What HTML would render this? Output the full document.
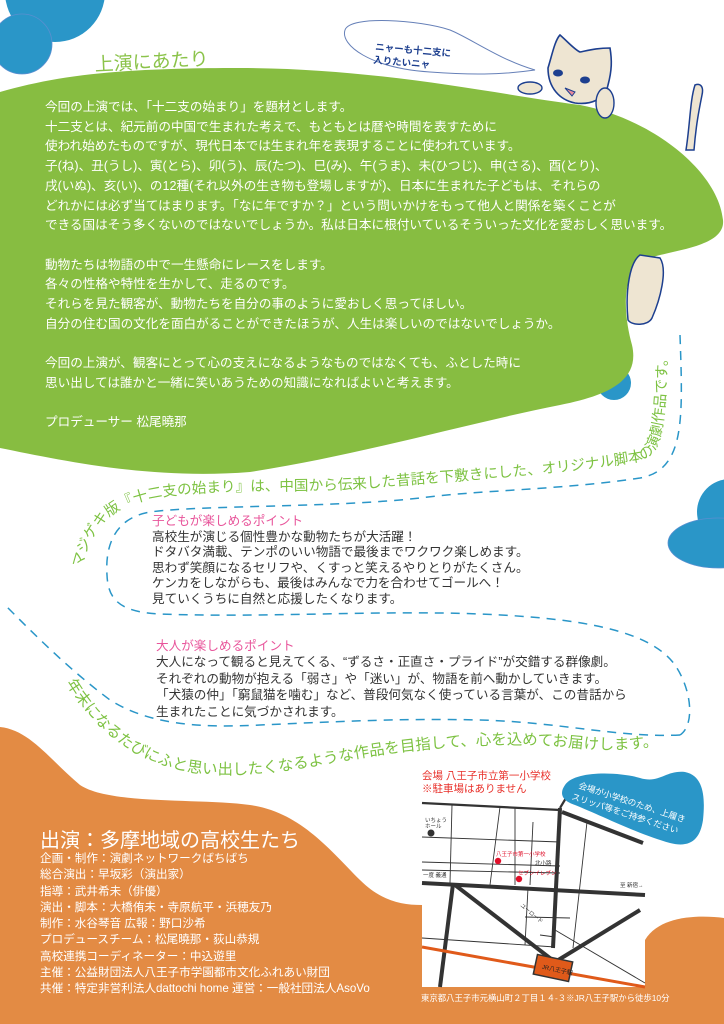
<!DOCTYPE html>
<html><head><meta charset="utf-8"><style>
html,body{margin:0;padding:0;background:#fff}
body{width:724px;height:1024px;position:relative;overflow:hidden;font-family:"Liberation Sans","Noto Sans CJK JP",sans-serif}
.t{position:absolute;white-space:nowrap}
.g{color:#fff;font-size:12.6px;line-height:19.7px;left:45px;top:98px}
.p{color:#333;font-size:12.6px;line-height:15.6px}
.pk{color:#e8559b}
.c{color:#fff;font-size:11.6px;line-height:16.3px;left:40px;top:851px}
</style></head><body>
<svg width="724" height="1024" style="position:absolute;left:0;top:0" xmlns="http://www.w3.org/2000/svg">
<path d="M0,727 C30,730 50,760 80,785 C110,805 200,798 250,805 C300,812 330,850 360,880 C380,900 400,905 422,905 L422,1024 L0,1024 Z" fill="#e38b44"/>
<path d="M422,900 L645,900 L645,1024 L422,1024 Z" fill="#e38b44"/>
<path d="M645,940 C660,915 700,915 724,918 L724,1024 L645,1024 Z" fill="#e38b44"/>
<circle cx="55" cy="-8" r="50" fill="#2a96c8"/>
<circle cx="22" cy="44" r="30" fill="#2a96c8" stroke="#5a8fd0" stroke-width="0.8"/>
<circle cx="614" cy="383" r="17" fill="#2a96c8"/>
<circle cx="730" cy="512" r="33" fill="#2a96c8"/>
<ellipse cx="718" cy="543" rx="50" ry="25" fill="#2a96c8" stroke="#5a8fd0" stroke-width="0.8"/>
<path d="M0,92 C60,75 120,68 240,68 C380,68 500,95 580,105 C650,118 718,170 723,220 C726,250 660,250 640,262 C620,280 625,320 632,345 C640,380 610,395 560,405 C460,425 360,455 250,472 C150,480 60,460 0,448 Z" fill="#87bd41"/>
<path d="M628,320 C625,290 630,262 640,255 L660,258 C668,270 660,300 652,318 C648,326 632,326 628,320 Z" fill="#eee5d2" stroke="#1d3f8f" stroke-width="1.5"/>
<path d="M686,150 C690,125 690,100 695,85 C700,83 704,86 702,95 C699,110 696,125 694,150 Z" fill="#eee5d2" stroke="#1d3f8f" stroke-width="1.5"/>
<path d="M548,68 C552,55 555,40 560,35 C568,42 575,50 580,52 C590,50 598,48 610,48 C612,60 612,70 608,85 C605,100 590,105 575,103 C560,100 548,88 548,68 Z" fill="#eee5d2" stroke="#1d3f8f" stroke-width="1.6"/>
<ellipse cx="558" cy="73" rx="5" ry="3.5" fill="#1d3f8f"/>
<ellipse cx="585" cy="80" rx="5" ry="3.5" fill="#1d3f8f"/>
<path d="M565,88 L575,92 L572,96 Z" fill="#e88a9a" stroke="#1d3f8f" stroke-width="1"/>
<ellipse cx="530" cy="88" rx="12" ry="6" fill="#eee5d2" stroke="#1d3f8f" stroke-width="1.4"/>
<ellipse cx="605" cy="103" rx="9" ry="15" fill="#eee5d2" stroke="#1d3f8f" stroke-width="1.4"/>
<path d="M345,30 C350,15 420,20 450,30 C470,38 500,60 535,70 C500,75 470,75 430,72 C370,68 340,45 345,30 Z" fill="#fff" stroke="#6680b8" stroke-width="1"/>
<text x="375" y="50" font-size="9.5" fill="#1d3f8f" font-weight="bold" transform="rotate(5 375 50)" font-family="Liberation Sans,Noto Sans CJK JP,sans-serif">ニャーも十二支に</text>
<text x="373" y="63" font-size="9.5" fill="#1d3f8f" font-weight="bold" transform="rotate(5 373 63)" font-family="Liberation Sans,Noto Sans CJK JP,sans-serif">入りたいニャ</text>
<text x="95" y="71" font-size="19" fill="#8bc34a" transform="rotate(-3 95 71)" font-family="Liberation Sans,Noto Sans CJK JP,sans-serif">上演にあたり</text>
<path d="M680,335 C683,420 685,470 640,478 C560,490 480,490 420,498 C330,508 200,505 150,512 C115,518 105,545 107,575 C108,600 120,612 160,614 C260,618 380,610 480,614 C580,618 650,630 675,665 C692,690 695,725 680,735" fill="none" stroke="#2a96c8" stroke-width="1.5" stroke-dasharray="9,7"/>
<path d="M680,735 C620,738 560,722 480,720 C400,718 330,722 260,725 C200,728 150,725 110,700 C70,670 40,640 5,605" fill="none" stroke="#2a96c8" stroke-width="1.5" stroke-dasharray="9,7"/>
<path id="p1" d="M82,568 C92,525 112,505 160,497 C230,487 300,494 380,487 C470,479 560,475 640,461 C664,455 666,420 668,325" fill="none"/>
<text font-size="14.6" fill="#7dc242" font-family="Liberation Sans,Noto Sans CJK JP,sans-serif"><textPath href="#p1">マジゲキ版『十二支の始まり』は、中国から伝来した昔話を下敷きにした、オリジナル脚本の演劇作品です。</textPath></text>
<path id="p2" d="M66,683 C95,730 140,770 210,774 C280,778 330,760 400,752 C470,744 520,742 580,748 C630,752 660,748 692,732" fill="none"/>
<text font-size="15.4" fill="#7dc242" font-family="Liberation Sans,Noto Sans CJK JP,sans-serif"><textPath href="#p2">年末になるたびにふと思い出したくなるような作品を目指して、心を込めてお届けします。</textPath></text>
<rect x="422" y="803" width="223" height="184" fill="#fff"/>
<g stroke="#333" fill="none" stroke-width="0.9">
<line x1="452" y1="805" x2="450" y2="883"/><line x1="500" y1="807" x2="490" y2="885"/>
<line x1="515" y1="807" x2="515" y2="885"/><line x1="533" y1="822" x2="530" y2="885"/>
<line x1="422" y1="837" x2="560" y2="842"/><line x1="422" y1="862" x2="560" y2="866"/>
<line x1="422" y1="870" x2="560" y2="873"/><line x1="587" y1="822" x2="573" y2="948"/>
<line x1="528" y1="888" x2="525" y2="945"/><line x1="525" y1="917" x2="570" y2="918"/>
<line x1="422" y1="938" x2="555" y2="947"/><line x1="540" y1="935" x2="555" y2="937"/>
<line x1="555" y1="930" x2="645" y2="983"/>
</g>
<g stroke="#333" stroke-width="4" fill="none">
<line x1="422" y1="883" x2="645" y2="895"/>
<line x1="560" y1="808" x2="553" y2="948"/>
<line x1="562" y1="812" x2="643" y2="843"/>
<line x1="453" y1="884" x2="440" y2="987"/>
<line x1="455" y1="885" x2="555" y2="962"/>
<line x1="555" y1="962" x2="640" y2="910"/>
<line x1="422" y1="803" x2="560" y2="810" stroke-width="2.2"/>
<line x1="560" y1="808" x2="566" y2="798" stroke-width="2.2"/>
</g>
<line x1="422" y1="947" x2="645" y2="987" stroke="#e05a1a" stroke-width="3"/>
<g transform="rotate(12 553 968)"><rect x="535" y="958" width="36" height="20" fill="#e05a1a" stroke="#333" stroke-width="1.5"/><text x="542" y="971" font-size="6" fill="#222" font-family="Liberation Sans,Noto Sans CJK JP,sans-serif">JR八王子駅</text></g>
<circle cx="431" cy="833" r="3.5" fill="#333"/>
<circle cx="498" cy="861" r="3.2" fill="#e0102a"/><circle cx="519" cy="879" r="3.2" fill="#e0102a"/>
<g font-size="5.5" font-family="Liberation Sans,Noto Sans CJK JP,sans-serif" fill="#333">
<text x="425" y="822">いちょう</text><text x="425" y="828">ホール</text>
<text x="496" y="856" fill="#e0102a">八王子市第一小学校</text><text x="535" y="865">北小路</text>
<text x="518" y="875" fill="#e0102a">セブンイレブン</text><text x="423" y="877">一度 義通</text><text x="620" y="887">至 新宿→</text>
<text x="520" y="906" transform="rotate(40 520 906)">ユーロード</text>
</g>
<path d="M565,785 C575,770 620,772 640,778 C660,784 665,770 685,772 C705,776 705,800 703,820 C700,840 690,848 670,843 C640,835 600,815 575,805 C560,800 560,792 565,785 Z" fill="#2a96c8"/>
<text x="578" y="788" font-size="8.6" fill="#fff" transform="rotate(18 578 788)" font-family="Liberation Sans,Noto Sans CJK JP,sans-serif">会場が小学校のため、上履き</text>
<text x="571" y="799" font-size="8.6" fill="#fff" transform="rotate(18 571 799)" font-family="Liberation Sans,Noto Sans CJK JP,sans-serif">スリッパ等をご持参ください</text>
</svg>

<div class="t g">今回の上演では、「十二支の始まり」を題材とします。<br>十二支とは、紀元前の中国で生まれた考えで、もともとは暦や時間を表すために<br>使われ始めたものですが、現代日本では生まれ年を表現することに使われています。<br>子(ね)、丑(うし)、寅(とら)、卯(う)、辰(たつ)、巳(み)、午(うま)、未(ひつじ)、申(さる)、酉(とり)、<br>戌(いぬ)、亥(い)、の12種(それ以外の生き物も登場しますが)、日本に生まれた子どもは、それらの<br>どれかには必ず当てはまります。「なに年ですか？」という問いかけをもって他人と関係を築くことが<br>できる国はそう多くないのではないでしょうか。私は日本に根付いているそういった文化を愛おしく思います。<br><br>動物たちは物語の中で一生懸命にレースをします。<br>各々の性格や特性を生かして、走るのです。<br>それらを見た観客が、動物たちを自分の事のように愛おしく思ってほしい。<br>自分の住む国の文化を面白がることができたほうが、人生は楽しいのではないでしょうか。<br><br>今回の上演が、観客にとって心の支えになるようなものではなくても、ふとした時に<br>思い出しては誰かと一緒に笑いあうための知識になればよいと考えます。<br><br>プロデューサー 松尾曉那</div>

<div class="t p" style="left:152px;top:514px"><span class="pk">子どもが楽しめるポイント</span><br>高校生が演じる個性豊かな動物たちが大活躍！<br>ドタバタ満載、テンポのいい物語で最後までワクワク楽しめます。<br>思わず笑顔になるセリフや、くすっと笑えるやりとりがたくさん。<br>ケンカをしながらも、最後はみんなで力を合わせてゴールへ！<br>見ていくうちに自然と応援したくなります。</div>

<div class="t p" style="left:156px;top:638px;line-height:16.4px"><span class="pk">大人が楽しめるポイント</span><br>大人になって観ると見えてくる、“ずるさ・正直さ・プライド”が交錯する群像劇。<br>それぞれの動物が抱える「弱さ」や「迷い」が、物語を前へ動かしていきます。<br>「犬猿の仲」「窮鼠猫を噛む」など、普段何気なく使っている言葉が、この昔話から<br>生まれたことに気づかされます。</div>

<div class="t" style="left:40px;top:824px;color:#fff;font-size:20px">出演：多摩地域の高校生たち</div>
<div class="t c">企画・制作：演劇ネットワークばちばち<br>総合演出：早坂彩（演出家）<br>指導：武井希未（俳優）<br>演出・脚本：大橋侑未・寺原航平・浜穂友乃<br>制作：水谷琴音 広報：野口沙希<br>プロデュースチーム：松尾曉那・荻山恭規<br>高校連携コーディネーター：中込遊里<br>主催：公益財団法人八王子市学園都市文化ふれあい財団<br>共催：特定非営利法人dattochi home 運営：一般社団法人AsoVo</div>

<div class="t" style="left:422px;top:770px;color:#e8302a;font-size:10.5px;line-height:13px">会場 八王子市立第一小学校<br>※駐車場はありません</div>
<div class="t" style="left:421px;top:992px;color:#fff;font-size:8.4px">東京都八王子市元横山町２丁目１４-３※JR八王子駅から徒歩10分</div>
</body></html>
